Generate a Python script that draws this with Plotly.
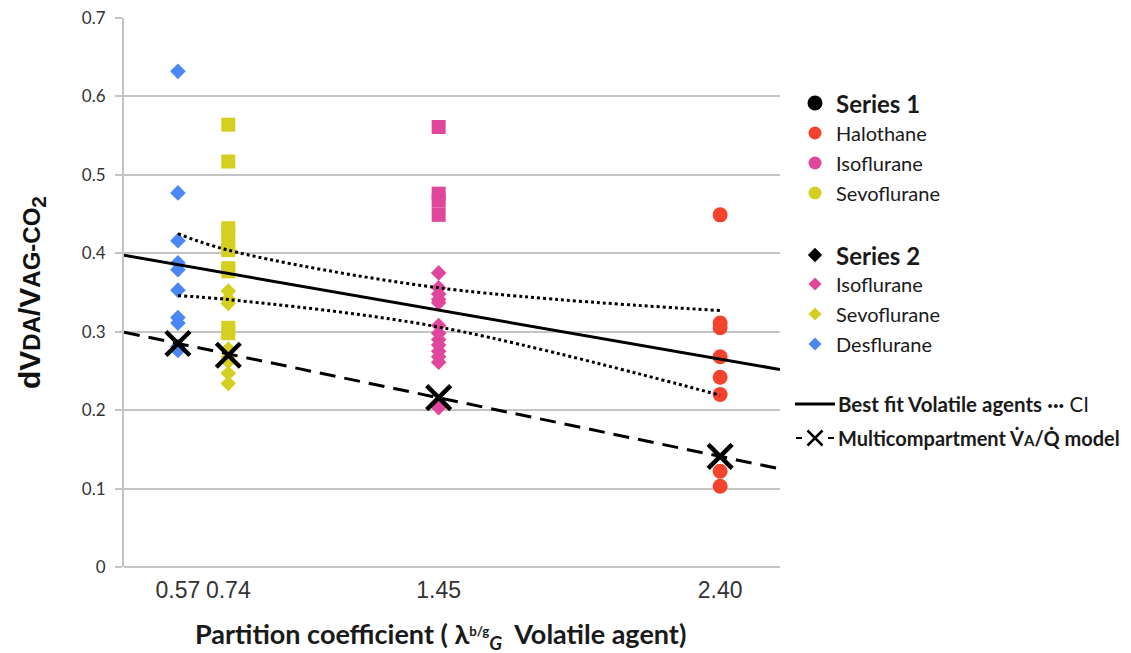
import plotly.graph_objects as go

# ---------------- data ----------------
partition = [0.57, 0.74, 1.45, 2.40]
tick_labels = ["0.57", "0.74", "1.45", "2.40"]

# Series 1 (measured, squares/circles)
halothane_s1 = [0.449, 0.311, 0.305, 0.268, 0.242, 0.220, 0.122, 0.103]      # at 2.40
isoflurane_s1 = [0.561, 0.476, 0.467, 0.449]                                    # at 1.45
sevoflurane_s1 = [0.564, 0.517, 0.432, 0.425, 0.409, 0.404, 0.381, 0.377, 0.305, 0.298]  # at 0.74

# Series 2 (diamonds)
isoflurane_s2 = [0.375, 0.356, 0.348, 0.341, 0.337, 0.308, 0.298, 0.290, 0.283,
                 0.275, 0.268, 0.261, 0.203]                                    # at 1.45
sevoflurane_s2 = [0.352, 0.342, 0.336, 0.278, 0.268, 0.262, 0.247, 0.234]      # at 0.74
desflurane_s2 = [0.632, 0.477, 0.416, 0.388, 0.379, 0.353, 0.318, 0.311, 0.281, 0.276]  # at 0.57

# Multicompartment VA/Q model
model_values = [0.285, 0.270, 0.216, 0.141]
model_intercept, model_slope = 0.3299, -0.0787

# Best fit of volatile agents and its confidence interval
fit_intercept, fit_slope = 0.423, -0.0658
ci_upper = [0.425, 0.404, 0.356, 0.327]
ci_lower = [0.346, 0.341, 0.306, 0.219]

x_range = [0.388, 2.602]
y_range = [0, 0.7]

# ---------------- styling ----------------
W, H = 1131, 653
PL, PR, PT, PB = 124, 780, 18, 567
C_HALO = "#F3432D"
C_ISO = "#E0479C"
C_SEVO = "#D5CF21"
C_DES = "#4A87F3"
GRID = "#c4c4c4"

fig = go.Figure()

def pts(xv, ys):
    return [xv] * len(ys), ys

# data markers
for xv, ys, col, sym, size in [
    (partition[0], desflurane_s2, C_DES, "diamond", 12),
    (partition[1], sevoflurane_s1, C_SEVO, "square", 14),
    (partition[1], sevoflurane_s2, C_SEVO, "diamond", 12),
    (partition[2], isoflurane_s1, C_ISO, "square", 14),
    (partition[2], isoflurane_s2, C_ISO, "diamond", 12),
    (partition[3], halothane_s1, C_HALO, "circle", 15),
]:
    xx, yy = pts(xv, ys)
    fig.add_trace(go.Scatter(x=xx, y=yy, mode="markers", showlegend=False,
                             marker=dict(symbol=sym, size=size, color=col, line=dict(width=0))))

# best-fit line
fx = list(x_range)
fy = [fit_intercept + fit_slope * v for v in fx]
fig.add_trace(go.Scatter(x=fx, y=fy, mode="lines", showlegend=False,
                         line=dict(color="black", width=3)))
# CI
for ci in (ci_upper, ci_lower):
    fig.add_trace(go.Scatter(x=partition, y=ci, mode="lines", showlegend=False,
                             line=dict(color="black", width=3, dash="dot", shape="spline")))
# model line
my = [model_intercept + model_slope * v for v in fx]
fig.add_trace(go.Scatter(x=fx, y=my, mode="lines", showlegend=False,
                         line=dict(color="black", width=3, dash="16px,9px")))
fig.add_trace(go.Scatter(x=partition, y=model_values, mode="markers", showlegend=False,
                         marker=dict(symbol="x-thin", size=24, color="black",
                                     line=dict(width=4.5, color="black"))))

# ---------------- custom legend on a pixel overlay axis ----------------
def px_trace(x, y, **kw):
    fig.add_trace(go.Scatter(x=x, y=y, xaxis="x2", yaxis="y2", showlegend=False,
                             hoverinfo="skip", cliponaxis=False, **kw))

LX, TX = 815, 834
leg_rows = [
    (103, "circle", "black", 15, "<b>Series 1</b>", 24),
    (133, "circle", C_HALO, 13, "Halothane", 20),
    (163, "circle", C_ISO, 13, "Isoflurane", 20),
    (193, "circle", C_SEVO, 13, "Sevoflurane", 20),
    (255, "diamond", "black", 11, "<b>Series 2</b>", 24),
    (284, "diamond", C_ISO, 10, "Isoflurane", 20),
    (314, "diamond", C_SEVO, 10, "Sevoflurane", 20),
    (344, "diamond", C_DES, 10, "Desflurane", 20),
]
annotations = []
for yy, sym, col, size, txt, fs in leg_rows:
    px_trace([LX], [yy], mode="markers", marker=dict(symbol=sym, size=size, color=col))
    annotations.append(dict(x=TX, y=yy, xref="x2", yref="y2", text=txt, showarrow=False,
                            xanchor="left", yanchor="middle",
                            font=dict(family="Lato", size=fs, color="#1a1a1a")))

# best fit legend row
px_trace([795, 835], [404, 404], mode="lines", line=dict(color="black", width=3))
annotations.append(dict(x=836, y=404, xref="x2", yref="y2",
                        text="<b>Best fit Volatile agents</b> <b>···</b> CI",
                        showarrow=False, xanchor="left", yanchor="middle",
                        font=dict(family="Lato", size=20.5, color="#1a1a1a")))
# model legend row
px_trace([796, 802], [438, 438], mode="lines", line=dict(color="black", width=2))
px_trace([828, 834], [438, 438], mode="lines", line=dict(color="black", width=2))
px_trace([815], [438], mode="markers",
         marker=dict(symbol="x-thin", size=15, color="black", line=dict(width=2.5, color="black")))
annotations.append(dict(x=836, y=438, xref="x2", yref="y2",
                        text="<b>Multicompartment V\u0307<span style='font-size:15px'>A</span>/Q\u0307 model</b>",
                        showarrow=False, xanchor="left", yanchor="middle",
                        font=dict(family="Lato", size=20, color="#1a1a1a")))

# axis titles
annotations.append(dict(x=31, y=293, xref="x2", yref="y2", textangle=-90, showarrow=False,
                        text="<b>dV<span style='font-size:24px'>DA</span>/V<span style='font-size:24px'>AG-CO</span><sub>2</sub></b>",
                        font=dict(family="Liberation Sans", size=30, color="#111")))
annotations.append(dict(x=440, y=635, xref="x2", yref="y2", showarrow=False,
                        text="<b>Partition coefficient ( λ<span style='font-size:19px'><sup>b/g</sup></span><sub><i>G</i></sub>  Volatile agent)</b>",
                        font=dict(family="Lato", size=27, color="#1a1a1a")))

fig.update_layout(
    width=W, height=H,
    margin=dict(l=0, r=0, t=0, b=0, pad=0, autoexpand=False),
    paper_bgcolor="white", plot_bgcolor="rgba(0,0,0,0)",
    showlegend=False,
    annotations=annotations,
    xaxis=dict(domain=[PL / W, PR / W], range=x_range, tickvals=partition, ticktext=tick_labels,
               showgrid=False, zeroline=False, showline=False, ticks="", automargin=False,
               ticklabelstandoff=7,
               tickfont=dict(family="Liberation Sans", size=23, color="#333")),
    yaxis=dict(domain=[1 - PB / H, 1 - PT / H], range=y_range, dtick=0.1, automargin=False,
               showgrid=True, gridcolor=GRID, gridwidth=2,
               zeroline=True, zerolinecolor=GRID, zerolinewidth=2,
               showline=True, linecolor=GRID, linewidth=2,
               ticks="outside", ticklen=7, tickcolor=GRID, tickwidth=2,
               ticklabelstandoff=6,
               tickfont=dict(family="Lato", size=17, color="#333")),
    xaxis2=dict(domain=[0, 1], range=[0, W], visible=False, anchor="y2", fixedrange=True,
                automargin=False),
    yaxis2=dict(domain=[0, 1], range=[H, 0], visible=False, anchor="x2", fixedrange=True,
                automargin=False),
)

fig.write_html("out.html")
